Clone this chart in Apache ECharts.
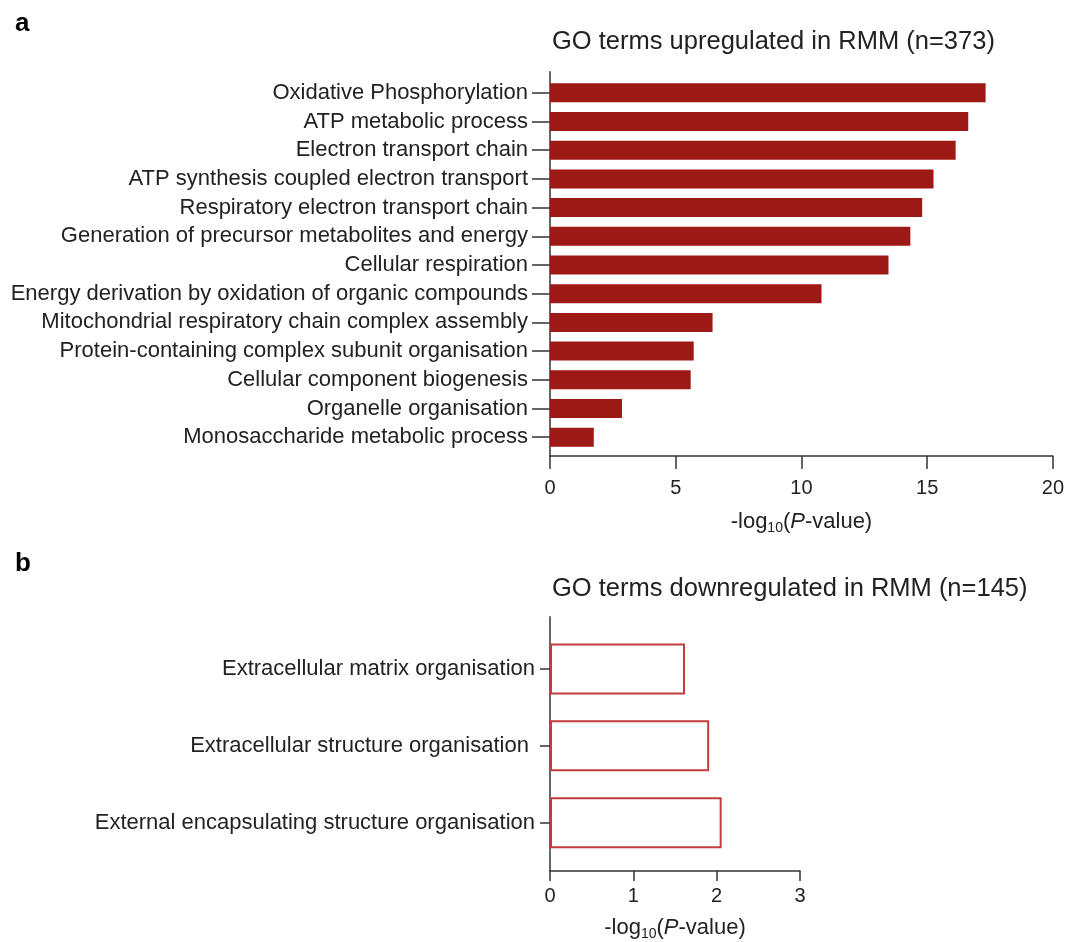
<!DOCTYPE html>
<html>
<head>
<meta charset="utf-8">
<script src="https://cdn.jsdelivr.net/npm/echarts@6/dist/echarts.min.js"></script>
<style>html,body{margin:0;padding:0;background:#fff;}#c{width:1067px;height:942px;}</style>
</head>
<body>
<div id="c"></div>
<script>
// ---- data ----
const upTerms = [
  "Oxidative Phosphorylation",
  "ATP metabolic process",
  "Electron transport chain",
  "ATP synthesis coupled electron transport",
  "Respiratory electron transport chain",
  "Generation of precursor metabolites and energy",
  "Cellular respiration",
  "Energy derivation by oxidation of organic compounds",
  "Mitochondrial respiratory chain complex assembly",
  "Protein-containing complex subunit organisation",
  "Cellular component biogenesis",
  "Organelle organisation",
  "Monosaccharide metabolic process"
];
const upValues = [17.31, 16.62, 16.12, 15.24, 14.79, 14.32, 13.45, 10.79, 6.46, 5.71, 5.59, 2.86, 1.74];
const downTerms = [
  "Extracellular matrix organisation",
  "Extracellular structure organisation ",
  "External encapsulating structure organisation"
];
const downValues = [1.62, 1.91, 2.06];
const upTicks = [0, 5, 10, 15, 20];
const downTicks = [0, 1, 2, 3];
const titleUp = "GO terms upregulated in RMM (n=373)";
const titleDown = "GO terms downregulated in RMM (n=145)";

const FONT = "Liberation Sans, Arial, sans-serif";
const TXT = "#222";
const AX = "#333";
const axisName = "-log{sub|10}({it|P}-value)";
const nameRich = {
  sub: {fontSize: 14, fontFamily: FONT, color: TXT, lineHeight: 14, padding: [13, 0, 0, 0]},
  it: {fontSize: 22, fontFamily: FONT, color: TXT, fontStyle: 'italic', lineHeight: 27}
};

const chart = echarts.init(document.getElementById('c'), null, {renderer: 'canvas'});

const option = {
  animation: false,
  backgroundColor: '#fff',
  title: [
    {text: 'a', left: 10, top: 6, textStyle: {fontFamily: FONT, fontWeight: 'bold', fontSize: 26, color: '#000'}},
    {text: titleUp, left: 547, top: 24, textStyle: {fontFamily: FONT, fontWeight: 'normal', fontSize: 25.5, color: TXT}},
    {text: 'b', left: 10, top: 546, textStyle: {fontFamily: FONT, fontWeight: 'bold', fontSize: 26, color: '#000'}},
    {text: titleDown, left: 547, top: 571, textStyle: {fontFamily: FONT, fontWeight: 'normal', fontSize: 25.5, color: TXT}}
  ],
  grid: [
    // a: bars
    {left: 550, width: 503.3, top: 78.4, height: 373.2},
    // a: axes frame
    {left: 550, width: 503.3, top: 71.7, height: 384.3},
    // b: bars
    {left: 550, width: 250, top: 630.6, height: 230.5},
    // b: axes frame
    {left: 550, width: 250, top: 616.7, height: 256.6}
  ],
  xAxis: [
    {gridIndex: 0, type: 'value', min: 0, max: 20, show: false},
    {gridIndex: 1, type: 'value', min: 0, max: 20, interval: 5,
      axisLine: {show: true, lineStyle: {color: AX, width: 1.5}},
      axisTick: {show: true, length: 13, lineStyle: {color: AX, width: 1.5}},
      axisLabel: {margin: 22, fontSize: 20, fontFamily: FONT, color: TXT,
        formatter: v => upTicks.includes(v) ? String(v) : ''},
      splitLine: {show: false},
      name: axisName, nameLocation: 'middle', nameGap: 52,
      nameTextStyle: {fontSize: 22, fontFamily: FONT, color: TXT, lineHeight: 27, rich: nameRich}
    },
    {gridIndex: 2, type: 'value', min: 0, max: 3, show: false},
    {gridIndex: 3, type: 'value', min: 0, max: 3, interval: 1,
      axisLine: {show: true, lineStyle: {color: AX, width: 1.5}},
      axisTick: {show: true, length: 10, lineStyle: {color: AX, width: 1.5}},
      axisLabel: {margin: 15, fontSize: 20, fontFamily: FONT, color: TXT,
        formatter: v => downTicks.includes(v) ? String(v) : ''},
      splitLine: {show: false},
      name: axisName, nameLocation: 'middle', nameGap: 43,
      nameTextStyle: {fontSize: 22, fontFamily: FONT, color: TXT, lineHeight: 27, rich: nameRich}
    }
  ],
  yAxis: [
    {gridIndex: 0, type: 'category', data: upTerms, inverse: true,
      axisLine: {show: false},
      axisTick: {show: true, length: 18, alignWithLabel: true, lineStyle: {color: AX, width: 1.5}},
      axisLabel: {margin: 22, fontSize: 22, fontFamily: FONT, color: TXT, interval: 0}
    },
    {gridIndex: 1, type: 'category', data: [''],
      axisLine: {show: true, lineStyle: {color: AX, width: 1.5}},
      axisTick: {show: false}, axisLabel: {show: false}, splitLine: {show: false}
    },
    {gridIndex: 2, type: 'category', data: downTerms, inverse: true,
      axisLine: {show: false},
      axisTick: {show: true, length: 10, alignWithLabel: true, lineStyle: {color: AX, width: 1.5}},
      axisLabel: {margin: 15, fontSize: 22, fontFamily: FONT, color: TXT, interval: 0}
    },
    {gridIndex: 3, type: 'category', data: [''],
      axisLine: {show: true, lineStyle: {color: AX, width: 1.5}},
      axisTick: {show: false}, axisLabel: {show: false}, splitLine: {show: false}
    }
  ],
  series: [
    {type: 'bar', xAxisIndex: 0, yAxisIndex: 0, data: upValues, barWidth: 19,
      itemStyle: {color: '#9c1915'}, silent: true},
    {type: 'bar', xAxisIndex: 2, yAxisIndex: 2, data: downValues, barWidth: 51,
      itemStyle: {color: '#ffffff', borderColor: '#c43c3c', borderWidth: 2}, silent: true}
  ]
};
chart.setOption(option);
</script>
</body>
</html>
